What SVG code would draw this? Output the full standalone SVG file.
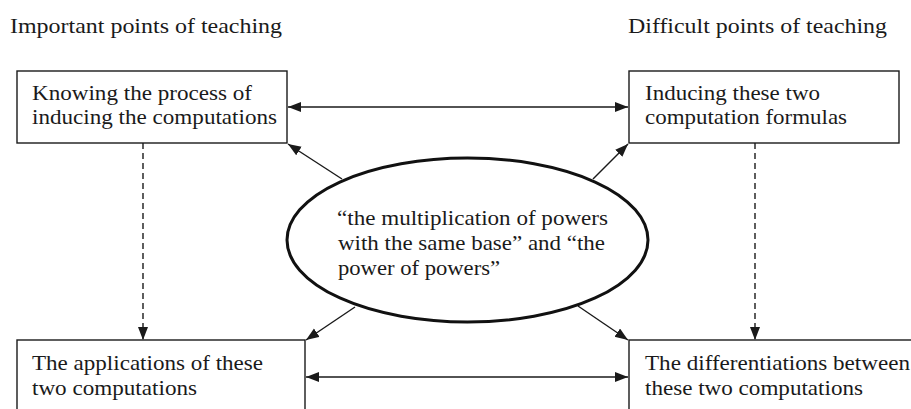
<svg xmlns="http://www.w3.org/2000/svg" width="911" height="409" viewBox="0 0 911 409">
<style>
text{font-family:"Liberation Serif","Times New Roman",serif;font-size:22px;fill:#1a1a1a}
.box{fill:#fff;stroke:#1a1a1a;stroke-width:1.4}
.ln{stroke:#1a1a1a;stroke-width:1.4;fill:none}
.dash{stroke-dasharray:6,4}
</style>
<defs>
<marker id="ah" markerUnits="userSpaceOnUse" markerWidth="14" markerHeight="12" refX="13" refY="5" orient="auto-start-reverse">
<path d="M0,0 L13,5 L0,10 Z" fill="#1a1a1a"/>
</marker>
</defs>
<rect width="911" height="409" fill="#fff"/>
<text x="10" y="33" textLength="272" lengthAdjust="spacingAndGlyphs">Important points of teaching</text>
<text x="628" y="33" textLength="259" lengthAdjust="spacingAndGlyphs">Difficult points of teaching</text>
<g id="n1">
<rect class="box" x="17" y="71" width="270" height="72"/>
<text x="32" y="100" textLength="220" lengthAdjust="spacingAndGlyphs">Knowing the process of</text>
<text x="32" y="124" textLength="245" lengthAdjust="spacingAndGlyphs">inducing the computations</text>
</g>
<g id="n2">
<rect class="box" x="629" y="71" width="270" height="72"/>
<text x="645" y="100" textLength="175" lengthAdjust="spacingAndGlyphs">Inducing these two</text>
<text x="645" y="124" textLength="202" lengthAdjust="spacingAndGlyphs">computation formulas</text>
</g>
<g id="n3">
<rect class="box" x="17" y="340" width="288" height="90"/>
<text x="32" y="370" textLength="231" lengthAdjust="spacingAndGlyphs">The applications of these</text>
<text x="32" y="395" textLength="165" lengthAdjust="spacingAndGlyphs">two computations</text>
</g>
<g id="n4">
<rect class="box" x="629" y="340" width="300" height="90"/>
<text x="645" y="370" textLength="265" lengthAdjust="spacingAndGlyphs">The differentiations between</text>
<text x="645" y="395" textLength="218" lengthAdjust="spacingAndGlyphs">these two computations</text>
</g>
<g id="center">
<ellipse cx="467.5" cy="240" rx="180.5" ry="82" fill="#fff" stroke="#111" stroke-width="3"/>
<text x="337" y="225" textLength="271" lengthAdjust="spacingAndGlyphs">“the multiplication of powers</text>
<text x="338" y="250" textLength="267" lengthAdjust="spacingAndGlyphs">with the same base” and “the</text>
<text x="338" y="275" textLength="162" lengthAdjust="spacingAndGlyphs">power of powers”</text>
</g>
<g id="connectors">
<line class="ln" x1="288" y1="107" x2="628" y2="107" marker-start="url(#ah)" marker-end="url(#ah)"/>
<line class="ln" x1="306" y1="377" x2="628" y2="377" marker-start="url(#ah)" marker-end="url(#ah)"/>
<line class="ln dash" x1="143" y1="143" x2="143" y2="340" marker-end="url(#ah)"/>
<line class="ln dash" x1="755" y1="143" x2="755" y2="340" marker-end="url(#ah)"/>
<line class="ln" x1="342" y1="179" x2="288" y2="144" marker-end="url(#ah)"/>
<line class="ln" x1="593" y1="179" x2="628" y2="144" marker-end="url(#ah)"/>
<line class="ln" x1="355" y1="307" x2="306" y2="340" marker-end="url(#ah)"/>
<line class="ln" x1="578" y1="306" x2="628" y2="340" marker-end="url(#ah)"/>
</g>
</svg>
